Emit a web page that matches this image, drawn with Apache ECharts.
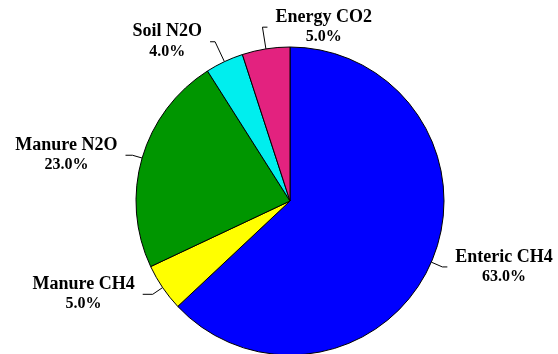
<!DOCTYPE html>
<html>
<head>
<meta charset="utf-8">
<script src="https://cdn.jsdelivr.net/npm/echarts@6/dist/echarts.min.js"></script>
<style>
  html, body { margin: 0; padding: 0; background: #fff; }
  #chart { width: 558px; height: 354px; }
</style>
</head>
<body>
<div id="chart"></div>
<script>
// Emission sources and their shares (percent of total)
const categories = ['Enteric CH4', 'Manure CH4', 'Manure N2O', 'Soil N2O', 'Energy CO2'];
const shares = [63, 5, 23, 4, 5];

// Slice fills
const sliceColors = ['#0000FF', '#FFFF00', '#009600', '#00EEEE', '#E3227F'];

// Leader line styling per slice: radial length, horizontal length, side the label sits on (1 = right, -1 = left)
const leadRadial = [12, 12, 10, 22, 22];
const leadFlat = [5, 10, 7, 5, 5];
const labelSide = [1, -1, -1, -1, 1];
const labelGap = 8;

const chart = echarts.init(document.getElementById('chart'), null, { renderer: 'canvas' });

const seriesData = categories.map((name, i) => ({
  name: name,
  value: shares[i],
  itemStyle: { color: sliceColors[i] },
  labelLine: { length: leadRadial[i], length2: leadFlat[i] }
}));

const serif = '"Liberation Serif", "Times New Roman", serif';

chart.setOption({
  animation: false,
  backgroundColor: '#ffffff',
  series: [{
    type: 'pie',
    center: [290, 201],
    radius: 154,
    startAngle: 90,
    clockwise: true,
    avoidLabelOverlap: false,
    data: seriesData,
    itemStyle: { borderColor: '#000', borderWidth: 1 },
    emphasis: { disabled: true },
    label: {
      show: true,
      position: 'outside',
      formatter: function (p) {
        return '{n|' + p.name + '}\n{p|' + p.percent.toFixed(1) + '%}';
      },
      fontFamily: serif,
      fontWeight: 'bold',
      color: '#000',
      rich: {
        n: { fontFamily: serif, fontWeight: 'bold', fontSize: 18, lineHeight: 20, align: 'center', color: '#000' },
        p: { fontFamily: serif, fontWeight: 'bold', fontSize: 16, lineHeight: 20, align: 'center', color: '#000' }
      }
    },
    labelLine: {
      show: true,
      smooth: false,
      lineStyle: { color: '#000', width: 1 }
    },
    labelLayout: function (params) {
      const i = params.dataIndex;
      const side = labelSide[i];
      const pts = params.labelLinePoints.map(p => p.slice());
      pts[2][0] = pts[1][0] + side * leadFlat[i];
      pts[2][1] = pts[1][1];
      return {
        x: pts[2][0] + side * labelGap,
        y: pts[2][1],
        align: side > 0 ? 'left' : 'right',
        verticalAlign: 'middle',
        labelLinePoints: pts
      };
    }
  }]
});
</script>
</body>
</html>
